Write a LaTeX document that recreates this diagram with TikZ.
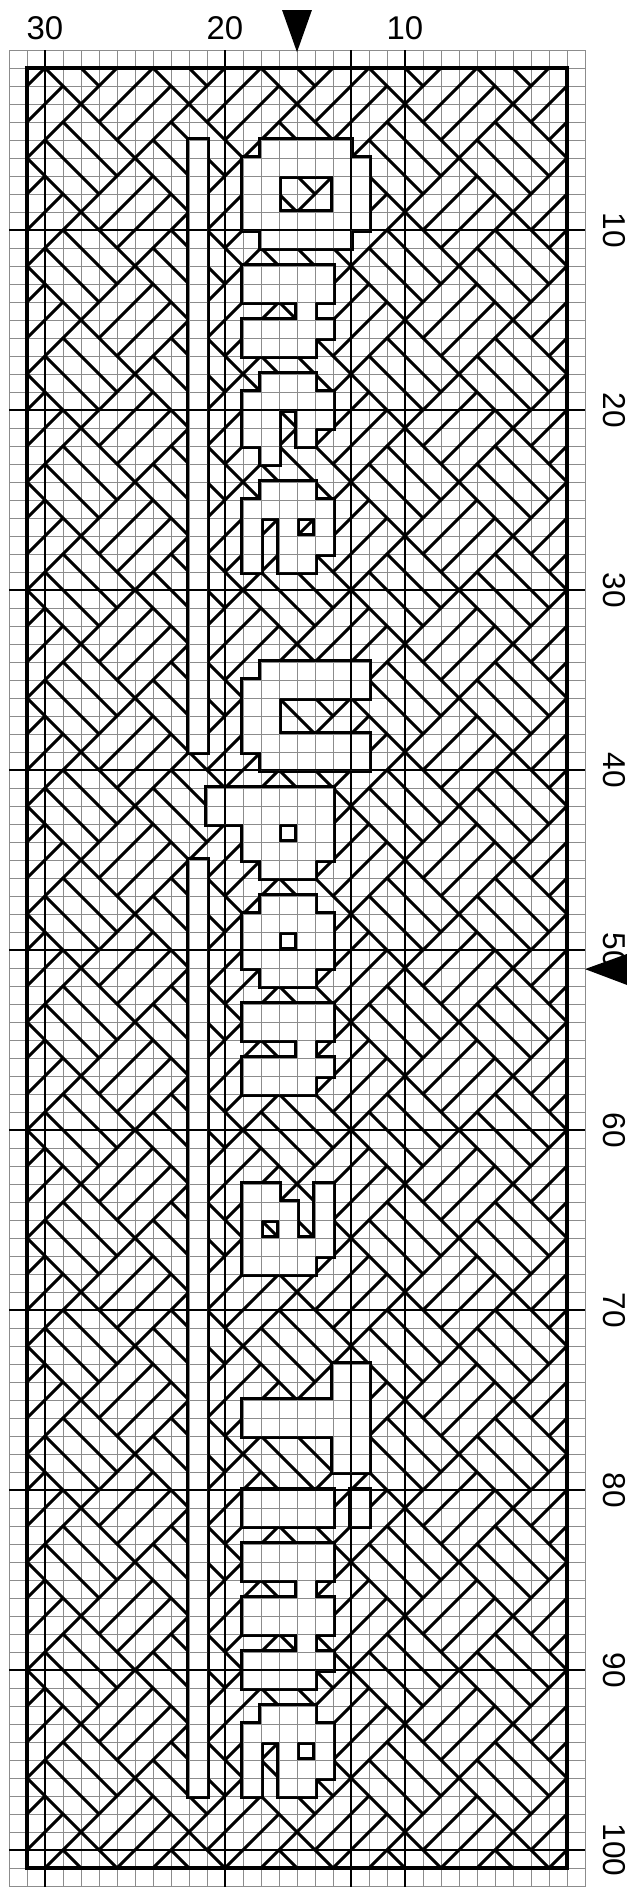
\documentclass[tikz,border=0pt]{standalone}
\usepackage{fontspec}
\setmainfont{Liberation Sans}
\tikzset{
  gridthin/.style={draw=black!45, line width=0.6pt},
  gridthick/.style={draw=black, line width=0.9pt},
  pat/.style={draw=black, line width=2.3pt, line cap=round},
  outl/.style={draw=black, line width=4.6pt, line join=miter},
  frame/.style={draw=black, line width=2.6pt},
  lab/.style={font=\fontsize{26}{26}\selectfont, inner sep=0pt},
  rlab/.style={font=\fontsize{25}{25}\selectfont, inner sep=0pt, rotate=-90},
}
% y1/y2/x1/x2 rectangles of the lettering and the bar (grid units)
\def\glyphs{5/6/14/19, 6/7/13/20, 7/9/13/15, 7/9/18/20, 9/10/13/20, 10/11/14/19,
12/14/13/18, 14/15/16/17, 15/16/13/18, 16/17/13/17,
18/19/14/17, 19/20/13/18, 20/21/13/15, 20/21/16/18, 21/22/13/15, 21/22/16/17, 22/23/14/15,
24/25/14/17, 25/26/13/18, 26/27/13/14, 26/27/15/16, 26/27/17/18, 27/28/13/14, 27/28/15/18, 28/29/13/14, 28/29/15/17,
34/35/14/20, 35/36/13/20, 36/38/13/15, 38/39/13/20, 39/40/14/20,
41/43/11/18, 43/44/13/15, 43/44/16/18, 44/45/13/18, 45/46/14/17,
47/48/14/17, 48/49/13/18, 49/50/13/15, 49/50/16/18, 50/51/13/18, 51/52/14/17,
53/55/13/18, 55/56/16/17, 56/57/13/18, 57/58/13/17,
63/64/13/15, 63/64/17/18, 64/65/13/16, 64/65/17/18, 65/66/13/14, 65/66/15/16, 65/66/17/18, 66/67/13/18, 67/68/13/17,
73/75/18/20, 75/77/13/20, 77/79/18/20,
80/82/13/18, 80/82/19/20,
83/85/13/18, 85/86/16/17, 86/88/13/18, 88/89/16/17, 89/90/13/18, 90/91/13/17,
92/93/14/17, 93/94/13/18, 94/95/13/14, 94/95/15/16, 94/95/17/18, 95/96/13/14, 95/96/15/18, 96/97/13/14, 96/97/15/17,
5/39/10/11, 45/97/10/11}
\newcommand\drawgrid{%
  \foreach \c in {0,...,32} \draw[gridthin] (\c,0) -- (\c,102.3);
  \foreach \r in {0,...,102} \draw[gridthin] (0,\r) -- (32,\r);
  \foreach \c in {2,12,19,22} \draw[gridthick] (\c,0) -- (\c,102.3);
  \foreach \r in {10,20,...,100} \draw[gridthick] (0,\r) -- (32,\r);
}
\begin{document}
\begin{tikzpicture}[x=0.5cm,y=-0.5cm]
\useasboundingbox (-0.5,-2.7778) rectangle (34.5556,102.0556);
\fill[white] (-0.5,-2.7778) rectangle (34.5556,102.0556);
% chart grid
\drawgrid
% diagonal basketweave backstitch
\begin{scope}
\clip (1,1) rectangle (31,101);
\foreach \k in {0,...,22} {\pgfmathtruncatemacro\lu{6*\k+1}
  \draw[pat] ({\lu+5},-5) -- ({\lu-105},105);}
\foreach \k in {-17,...,5} {\pgfmathtruncatemacro\lv{6*\k+1}
  \draw[pat] ({\lv-5},-5) -- ({\lv+105},105);}
\foreach \i in {0,...,21} {\foreach \j in {-17,...,4} {
  \pgfmathtruncatemacro\pp{mod(\i+\j+40,2)}
  \pgfmathtruncatemacro\ua{6*\i+1}
  \pgfmathtruncatemacro\va{6*\j+1}
  \ifnum\pp=0
    \foreach \o in {2,4} {\pgfmathtruncatemacro\vc{\va+\o}
      \draw[pat] ({(\ua+(\vc))/2},{(\ua-(\vc))/2}) -- ({(\ua+6+(\vc))/2},{(\ua+6-(\vc))/2});}
  \else
    \foreach \o in {2,4} {\pgfmathtruncatemacro\uc{\ua+\o}
      \draw[pat] ({(\uc+(\va))/2},{(\uc-(\va))/2}) -- ({(\uc+(\va)+6)/2},{(\uc-(\va)-6)/2});}
  \fi
}}
\end{scope}
% lettering and bar: outline, white body, grid inside
\foreach \ya/\yb/\xa/\xb in \glyphs {\draw[outl] (\xa,\ya) rectangle (\xb,\yb);}
\foreach \ya/\yb/\xa/\xb in \glyphs {\fill[white] (\xa,\ya) rectangle (\xb,\yb);}
\begin{scope}
\clip foreach \ya/\yb/\xa/\xb in \glyphs {(\xa,\ya) rectangle (\xb,\yb)};
\drawgrid
\end{scope}
% outer frame
\draw[frame] (1,1) rectangle (31,101);
% column numbers
\node[lab] (c30) at (2,-1.2) {30};
\node[lab] (c20) at (12,-1.2) {20};
\node[lab] (c10) at (22,-1.2) {10};
% row numbers
\foreach \r in {10,20,...,100} \node[rlab] (r\r) at (33.65,\r) {\r};
% centre marks
\fill (16,0.12) -- (15.17,-2.22) -- (16.83,-2.22) -- cycle;
\fill (32,51.06) -- (34.33,50.22) -- (34.33,51.94) -- cycle;
\end{tikzpicture}
\end{document}
